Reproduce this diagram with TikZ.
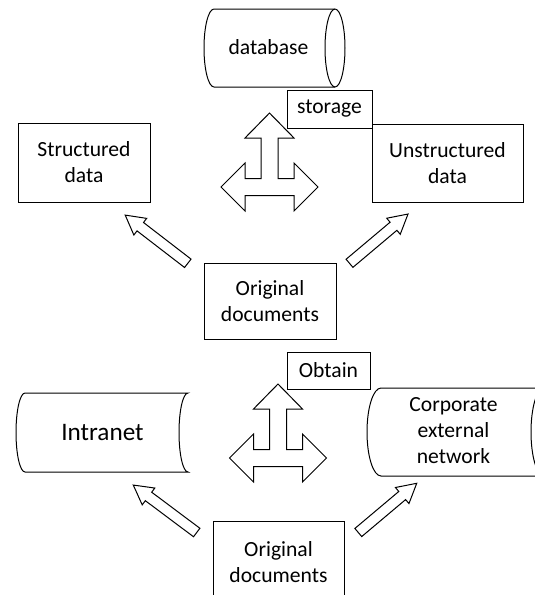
\documentclass[tikz,border=0pt]{standalone}
\usepackage{fontspec}
\setmainfont{Carlito}
\newcommand{\docfont}{\fontsize{10.8}{13}\selectfont}
\newcommand{\bigdocfont}{\fontsize{12.6}{15}\selectfont}

\tikzset{
    box/.style={draw, fill=white, line width=0.5pt, inner sep=0pt, align=center, font=\docfont},
    lbl/.style={align=center, inner sep=0pt, font=\docfont},
    shapeline/.style={draw, line width=0.5pt, line join=miter},
    splitarrow/.pic={
        \draw[shapeline] (0,74) -- (24.5,49) -- (8.5,49) -- (8.5,8.5) -- (24.5,8.5) -- (24.5,24) -- (48.5,0)
            -- (24.5,-24) -- (24.5,-8.5) -- (-24.5,-8.5) -- (-24.5,-24) -- (-48.5,0) -- (-24.5,24)
            -- (-24.5,8.5) -- (-8.5,8.5) -- (-8.5,49) -- (-24.5,49) -- cycle;
    },
    hollowarrow/.pic={
        \draw[shapeline] (0,5.3) -- ({#1-19},5.3) -- ({#1-19},10.5) -- (#1,0) -- ({#1-19},-10.5)
            -- ({#1-19},-5.3) -- (0,-5.3) -- cycle;
    }
}

\begin{document}
\begin{tikzpicture}[x=0.5pt, y=0.5pt]
    \useasboundingbox (0,0) rectangle (535,-595);
    \clip (0,0) rectangle (535,-595);

    % storage
    \draw[shapeline] (214,-9) -- (335,-9) arc[start angle=90, end angle=-90, x radius=10, y radius=39]
        -- (214,-87) arc[start angle=270, end angle=90, x radius=10, y radius=39] -- cycle;
    \draw[shapeline] (335,-9) arc[start angle=90, end angle=270, x radius=10, y radius=39];
    \node[lbl] (db) at (268.5,-47) {database};
    \node[box, minimum width=42.5pt, minimum height=19pt] (store) at (329.5,-109) {storage};
    \pic at (269.5,-187) {splitarrow};
    \node[box, minimum width=66pt, minimum height=39.5pt] (sdata) at (84,-162.5) {Structured\\data};
    \node[box, minimum width=75.5pt, minimum height=39pt] (udata) at (447.5,-163) {Unstructured\\data};
    \node[box, minimum width=66pt, minimum height=38pt] (orig1) at (270,-301) {Original\\documents};
    \coordinate (a1) at (187.8,-263.3);
    \coordinate (a2) at (349.5,-263.3);
    \pic[rotate=142.4] at (a1) {hollowarrow=79};
    \pic[rotate=40.1] at (a2) {hollowarrow=76.5};

    % obtain
    \draw[shapeline] (25,-393) -- (188,-393) arc[start angle=90, end angle=270, x radius=9, y radius=39.5]
        -- (25,-472) arc[start angle=270, end angle=90, x radius=9, y radius=39.5] -- cycle;
    \node[lbl, font=\bigdocfont] (intra) at (102.5,-433) {Intranet};
    \draw[shapeline] (381,-388) -- (544,-388) arc[start angle=90, end angle=270, x radius=13, y radius=44]
        -- (381,-476) arc[start angle=270, end angle=90, x radius=14, y radius=44] -- cycle;
    \node[lbl] (extnet) at (453.5,-431) {Corporate\\external\\network};
    \node[box, minimum width=41.5pt, minimum height=18.5pt] (obtain) at (328.5,-370.5) {Obtain};
    \pic at (278,-458) {splitarrow};
    \node[box, minimum width=65.5pt, minimum height=41pt] (orig2) at (278.5,-562) {Original\\documents};
    \coordinate (a3) at (196.7,-532.5);
    \coordinate (a4) at (358.3,-532.5);
    \pic[rotate=143.2] at (a3) {hollowarrow=79.2};
    \pic[rotate=40.1] at (a4) {hollowarrow=76.4};
\end{tikzpicture}
\end{document}
